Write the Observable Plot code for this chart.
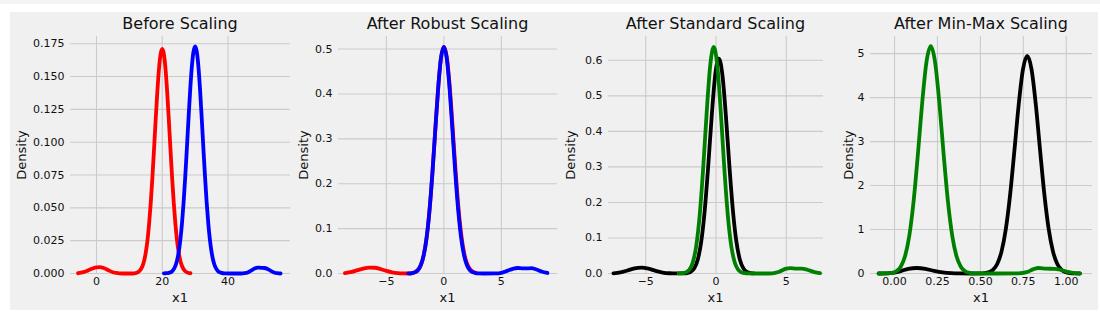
<!DOCTYPE html>
<html><head><meta charset="utf-8">
<script src="https://cdn.jsdelivr.net/npm/d3@7"></script>
<script src="https://cdn.jsdelivr.net/npm/@observablehq/plot@0.6"></script>
<style>
html,body{margin:0;padding:0;background:#fff;}
#page{position:relative;width:1100px;height:316px;overflow:hidden;font-family:"DejaVu Sans",sans-serif;color:#111;}
#topstrip{position:absolute;left:0;top:0;width:1100px;height:4px;background:#f4f4f4;}
#fig{position:absolute;left:10px;top:12px;width:1088px;height:298px;background:#f0f0f0;}
.title{position:absolute;font-size:16px;line-height:16px;white-space:nowrap;transform:translateX(-50%);}
.xlab{position:absolute;font-size:13px;line-height:13px;white-space:nowrap;transform:translateX(-50%);}
.ylab{position:absolute;font-size:13px;line-height:13px;white-space:nowrap;transform:translate(-50%,-50%) rotate(-90deg);}
.panel{position:absolute;top:0;}
</style>
</head><body>
<div id="page"><div id="topstrip"></div><div id="fig"></div></div>
<script>
// ---- titles / labels ----
const titles = ["Before Scaling", "After Robust Scaling", "After Standard Scaling", "After Min-Max Scaling"];
const xLabel = "x1";
const yLabel = "Density";

// ---- tick values ----
const p1XTicks = [0, 20, 40];
const p1YTicks = [0, 0.025, 0.05, 0.075, 0.1, 0.125, 0.15, 0.175];
const p2XTicks = [-5, 0, 5];
const p2YTicks = [0, 0.1, 0.2, 0.3, 0.4, 0.5];
const p3XTicks = [-5, 0, 5];
const p3YTicks = [0, 0.1, 0.2, 0.3, 0.4, 0.5, 0.6];
const p4XTicks = [0, 0.25, 0.5, 0.75, 1];
const p4YTicks = [0, 1, 2, 3, 4, 5];

// ---- density curves: [x, density] ----
const beforeX1 = [[-5.6,0.0002],[-4,0.001],[-3,0.0019],[-2,0.003],[-1,0.004],[0,0.0047],[1,0.0049],[2,0.0044],[3,0.0033],[4,0.002],[5,0.001],[6,0.0004],[7,0.0001],[8,0],[11,0],[12,0.0004],[13,0.0017],[14,0.0057],[14.5,0.0098],[15,0.0161],[15.5,0.0252],[16,0.0378],[16.5,0.0537],[17,0.073],[17.5,0.0947],[18,0.1171],[18.5,0.1382],[19,0.1557],[19.5,0.1671],[20,0.171],[20.5,0.1671],[21,0.1557],[21.5,0.1382],[22,0.1171],[22.5,0.0947],[23,0.073],[23.5,0.0537],[24,0.0378],[24.5,0.0252],[25,0.0161],[25.5,0.0098],[26,0.0057],[27,0.0017],[28,0.0004],[28.6,0.0002]];
const beforeX2 = [[20.5,0.0001],[21,0.0002],[22,0.0005],[23,0.0017],[24,0.0058],[24.5,0.0099],[25,0.0163],[25.5,0.0255],[26,0.0382],[26.5,0.0543],[27,0.0739],[27.5,0.0958],[28,0.1185],[28.5,0.1398],[29,0.1575],[29.5,0.169],[30,0.173],[30.5,0.169],[31,0.1575],[31.5,0.1398],[32,0.1185],[32.5,0.0958],[33,0.0739],[33.5,0.0543],[34,0.0382],[34.5,0.0255],[35,0.0163],[35.5,0.0099],[36,0.0058],[37,0.0017],[38,0.0005],[39,0.0001],[41,0],[44,0],[45,0.0002],[46,0.0008],[47,0.0022],[48,0.0037],[49,0.0045],[50,0.0043],[51,0.0042],[52,0.0035],[53,0.002],[54,0.0008],[55,0.0002],[56,0]];

const robustX1 = [[-8.6,0.0008],[-8,0.0035],[-7.5,0.0075],[-7,0.011],[-6.5,0.013],[-6,0.0128],[-5.5,0.0098],[-5,0.0058],[-4.5,0.0026],[-4,0.0009],[-3.5,0.0002],[-3,0],[-2.75,0.001],[-2.5,0.003],[-2.25,0.0079],[-2,0.0189],[-1.75,0.0408],[-1.5,0.0795],[-1.25,0.14],[-1,0.222],[-0.75,0.318],[-0.5,0.411],[-0.25,0.48],[0,0.505],[0.25,0.483],[0.5,0.42],[0.75,0.33],[1,0.236],[1.25,0.152],[1.5,0.089],[1.75,0.047],[2,0.023],[2.25,0.0103],[2.5,0.0042],[2.8,0.0012]];
const robustX2 = [[-3.1,0.0002],[-2.75,0.001],[-2.5,0.003],[-2.25,0.0079],[-2,0.0189],[-1.75,0.0408],[-1.5,0.0795],[-1.25,0.14],[-1,0.222],[-0.75,0.318],[-0.5,0.411],[-0.25,0.48],[0,0.505],[0.25,0.48],[0.5,0.411],[0.75,0.318],[1,0.222],[1.25,0.14],[1.5,0.0795],[1.75,0.0408],[2,0.0189],[2.25,0.0079],[2.5,0.003],[2.75,0.001],[3,0.0003],[3.5,0],[4.5,0.0002],[5,0.0015],[5.5,0.0058],[6,0.0105],[6.4,0.0123],[6.8,0.0115],[7.2,0.0112],[7.6,0.0118],[8,0.0095],[8.5,0.0045],[9,0.0012]];

const standardX1 = [[-7.3,0.0005],[-6.8,0.003],[-6.3,0.0085],[-5.8,0.0145],[-5.3,0.0165],[-4.8,0.0135],[-4.3,0.0075],[-3.8,0.0028],[-3.3,0.0007],[-2.8,0.0001],[-2.3,0.0003],[-2.05,0.0013],[-1.8,0.0046],[-1.55,0.0144],[-1.3,0.0388],[-1.05,0.0898],[-0.8,0.1785],[-0.55,0.304],[-0.3,0.446],[-0.05,0.5605],[0.2,0.605],[0.45,0.5605],[0.7,0.446],[0.95,0.304],[1.2,0.1785],[1.45,0.0898],[1.7,0.0388],[1.95,0.0144],[2.2,0.0046],[2.45,0.0013],[2.7,0.0003]];
const standardX2 = [[-2.66,0.0001],[-2.41,0.0007],[-2.16,0.0028],[-1.91,0.01],[-1.66,0.0301],[-1.41,0.0766],[-1.16,0.164],[-0.91,0.297],[-0.66,0.455],[-0.41,0.586],[-0.16,0.638],[0.09,0.586],[0.34,0.455],[0.59,0.297],[0.84,0.164],[1.09,0.0766],[1.34,0.0301],[1.59,0.01],[1.84,0.0028],[2.09,0.0007],[2.34,0.0001],[3.5,0],[4,0.0005],[4.5,0.005],[5,0.0135],[5.3,0.015],[5.7,0.0135],[6.1,0.0138],[6.5,0.0105],[7,0.004],[7.4,0.001]];

const minmaxX1 = [[-0.093,0],[-0.05,0.002],[0,0.02],[0.04,0.06],[0.08,0.105],[0.13,0.125],[0.18,0.105],[0.23,0.06],[0.28,0.025],[0.33,0.007],[0.38,0.001],[0.45,0],[0.498,0.002],[0.523,0.0084],[0.548,0.028],[0.573,0.0836],[0.598,0.217],[0.623,0.498],[0.648,1.005],[0.673,1.784],[0.698,2.788],[0.723,3.835],[0.748,4.644],[0.773,4.95],[0.798,4.644],[0.823,3.835],[0.848,2.788],[0.873,1.784],[0.898,1.005],[0.923,0.498],[0.948,0.217],[0.973,0.0836],[0.998,0.028],[1.023,0.0084],[1.048,0.002],[1.08,0]];
const minmaxX2 = [[-0.093,0],[-0.07,0.0005],[-0.039,0.004],[-0.014,0.0155],[0.011,0.052],[0.036,0.154],[0.061,0.391],[0.086,0.86],[0.111,1.64],[0.136,2.71],[0.161,3.88],[0.186,4.81],[0.211,5.17],[0.236,4.81],[0.261,3.88],[0.286,2.71],[0.311,1.64],[0.336,0.86],[0.361,0.391],[0.386,0.154],[0.411,0.052],[0.436,0.0155],[0.461,0.004],[0.5,0.0005],[0.6,0],[0.72,0.003],[0.77,0.03],[0.81,0.1],[0.84,0.125],[0.88,0.11],[0.93,0.105],[0.97,0.08],[1.01,0.035],[1.05,0.008],[1.08,0.001]];

// ---- panels ----
const panels = [
  {left: 70, right: 290, xDomain: [-7.9, 59], yDomain: [0, 0.1805], xTicks: p1XTicks, yTicks: p1YTicks, xFmt: d3.format("d"), yFmt: d3.format(".3f"), ylabX: 21.2,
   series: [[beforeX1, "#ff0000"], [beforeX2, "#0000ff"]]},
  {left: 338, right: 557, xDomain: [-9.16, 9.88], yDomain: [0, 0.528], xTicks: p2XTicks, yTicks: p2YTicks, xFmt: d3.format("d"), yFmt: d3.format(".1f"), ylabX: 302.7,
   series: [[robustX1, "#ff0000"], [robustX2, "#0000ff"]]},
  {left: 608, right: 823, xDomain: [-7.65, 7.65], yDomain: [0, 0.667], xTicks: p3XTicks, yTicks: p3YTicks, xFmt: d3.format("d"), yFmt: d3.format(".1f"), ylabX: 570.4,
   series: [[standardX1, "#000000"], [standardX2, "#008000"]]},
  {left: 870, right: 1092, xDomain: [-0.14, 1.153], yDomain: [0, 5.39], xTicks: p4XTicks, yTicks: p4YTicks, xFmt: d3.format(".2f"), yFmt: d3.format("d"), ylabX: 847.5,
   series: [[minmaxX1, "#000000"], [minmaxX2, "#008000"]]}
];

const page = document.getElementById("page");
const ML = 60, MR = 10, MT = 36, MB = 43, H = 316;

panels.forEach((p, i) => {
  const w = p.right - p.left + ML + MR;
  const chart = Plot.plot({
    width: w, height: H,
    marginLeft: ML, marginRight: MR, marginTop: MT, marginBottom: MB,
    style: {background: "transparent", fontFamily: "'DejaVu Sans', sans-serif", fontSize: "11px", color: "#111", overflow: "visible"},
    x: {domain: p.xDomain},
    y: {domain: p.yDomain},
    marks: [
      Plot.gridX(p.xTicks, {stroke: "#cbcbcb", strokeOpacity: 1, strokeWidth: 1.1}),
      Plot.gridY(p.yTicks, {stroke: "#cbcbcb", strokeOpacity: 1, strokeWidth: 1.1}),
      Plot.axisX(p.xTicks, {tickSize: 0, tickPadding: 4, tickFormat: p.xFmt, label: null}),
      Plot.axisY(p.yTicks, {tickSize: 0, tickPadding: 6, tickFormat: p.yFmt, label: null}),
      ...p.series.map(([data, color]) => Plot.line(data, {x: d => d[0], y: d => d[1], stroke: color, strokeWidth: 3.8, curve: "monotone-x", strokeLinejoin: "round", strokeLinecap: "round"}))
    ]
  });
  chart.classList.add("panel");
  chart.style.left = (p.left - ML) + "px";
  page.appendChild(chart);

  const cx = (p.left + p.right) / 2;
  const t = document.createElement("div");
  t.className = "title"; t.textContent = titles[i];
  t.style.left = cx + "px"; t.style.top = "16px";
  page.appendChild(t);

  const xl = document.createElement("div");
  xl.className = "xlab"; xl.textContent = xLabel;
  xl.style.left = cx + "px"; xl.style.top = "290.5px";
  page.appendChild(xl);

  const yl = document.createElement("div");
  yl.className = "ylab"; yl.textContent = yLabel;
  yl.style.left = p.ylabX + "px"; yl.style.top = "155px";
  page.appendChild(yl);
});
</script>
</body></html>
